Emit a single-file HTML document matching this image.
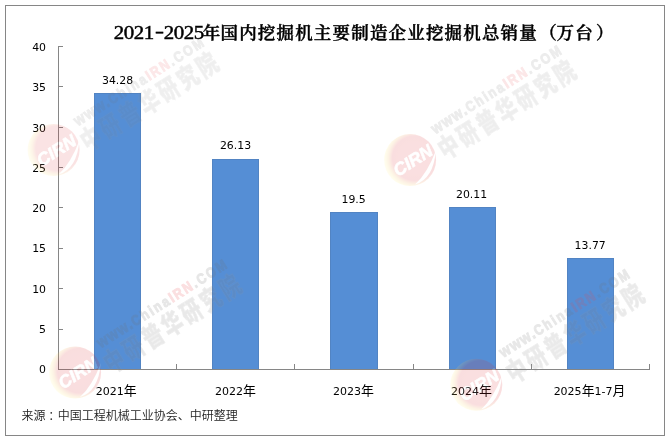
<!DOCTYPE html>
<html lang="zh-CN">
<head>
<meta charset="utf-8">
<title>2021-2025年国内挖掘机主要制造企业挖掘机总销量（万台）</title>
<style>
html,body{margin:0;padding:0;background:#fff;}
body{width:669px;height:440px;overflow:hidden;position:relative;}
svg{display:block;position:absolute;left:0;top:0;}
.num{font-family:"DejaVu Sans","Liberation Sans","Noto Sans CJK SC",sans-serif;font-size:10.9px;fill:#000;}
.cat{font-family:"DejaVu Sans","Liberation Sans","Noto Sans CJK SC",sans-serif;font-size:11px;fill:#000;}
.cjk{font-family:"Liberation Sans","Noto Sans CJK SC",sans-serif;font-size:12.9px;}
.title{font-family:"Liberation Serif","Noto Serif CJK SC",serif;font-size:18.67px;fill:#000;}
.tl{font-weight:normal;font-size:19px;stroke:#000;stroke-width:0.45px;}
.td{stroke:#000;stroke-width:0.5px;}
.tc{font-weight:600;font-size:17.5px;stroke:#000;stroke-width:0.4px;}
.src{font-family:"Liberation Sans","Noto Sans CJK SC",sans-serif;font-size:12px;font-weight:350;fill:#1c1c1c;}
</style>
</head>
<body>
<svg width="669" height="440" viewBox="0 0 669 440">
  <defs>
    <radialGradient id="ball" gradientUnits="userSpaceOnUse" cx="1.2" cy="-1.8" r="31">
      <stop offset="0" stop-color="#e02a30"/>
      <stop offset="0.72" stop-color="#dc2026"/>
      <stop offset="0.84" stop-color="#f2a848"/>
      <stop offset="0.93" stop-color="#ffe870"/>
      <stop offset="1" stop-color="#fff4a0"/>
    </radialGradient>
  </defs>
  <rect x="0" y="0" width="669" height="440" fill="#ffffff"/>
  <rect x="5.5" y="5.5" width="659" height="430" fill="#ffffff" stroke="#868686" stroke-width="1"/>
  <g fill="#558ED5" shape-rendering="crispEdges">
    <rect x="94" y="93" width="47" height="276"/>
    <rect x="212" y="159" width="47" height="210"/>
    <rect x="330" y="212" width="48" height="157"/>
    <rect x="449" y="207" width="47" height="162"/>
    <rect x="567" y="258" width="47" height="111"/>
  </g>
  <g fill="none" stroke="#4a6284" stroke-opacity="0.22" stroke-width="1" shape-rendering="crispEdges">
    <path d="M94.5 369 V93.5 H140.5 V369"/>
    <path d="M212.5 369 V159.5 H258.5 V369"/>
    <path d="M330.5 369 V212.5 H377.5 V369"/>
    <path d="M449.5 369 V207.5 H495.5 V369"/>
    <path d="M567.5 369 V258.5 H613.5 V369"/>
  </g>
  <g stroke="#868686" stroke-width="1" fill="none" shape-rendering="crispEdges">
    <line x1="58.5" y1="46" x2="58.5" y2="370"/>
    <line x1="58" y1="369.5" x2="650" y2="369.5"/>
    <line x1="58" y1="46.5" x2="63" y2="46.5"/>
    <line x1="58" y1="86.5" x2="63" y2="86.5"/>
    <line x1="58" y1="127.5" x2="63" y2="127.5"/>
    <line x1="58" y1="167.5" x2="63" y2="167.5"/>
    <line x1="58" y1="207.5" x2="63" y2="207.5"/>
    <line x1="58" y1="248.5" x2="63" y2="248.5"/>
    <line x1="58" y1="288.5" x2="63" y2="288.5"/>
    <line x1="58" y1="329.5" x2="63" y2="329.5"/>
    <line x1="176.5" y1="364" x2="176.5" y2="370"/>
    <line x1="294.5" y1="364" x2="294.5" y2="370"/>
    <line x1="413.5" y1="364" x2="413.5" y2="370"/>
    <line x1="531.5" y1="364" x2="531.5" y2="370"/>
    <line x1="649.5" y1="364" x2="649.5" y2="370"/>
  </g>
  <g class="num" text-anchor="end">
    <text x="46" y="51">40</text>
    <text x="46" y="91">35</text>
    <text x="46" y="132">30</text>
    <text x="46" y="172">25</text>
    <text x="46" y="212">20</text>
    <text x="46" y="252">15</text>
    <text x="46" y="293">10</text>
    <text x="46" y="333">5</text>
    <text x="46" y="373">0</text>
  </g>
  <g class="num" text-anchor="middle">
    <text x="117.6" y="84">34.28</text>
    <text x="235.5" y="149">26.13</text>
    <text x="353.6" y="203">19.5</text>
    <text x="471.6" y="198">20.11</text>
    <text x="590.2" y="249">13.77</text>
  </g>
  <g class="cat" text-anchor="middle">
    <text x="116.3" y="395">2021<tspan class="cjk">年</tspan></text>
    <text x="235.5" y="395">2022<tspan class="cjk">年</tspan></text>
    <text x="353.5" y="395">2023<tspan class="cjk">年</tspan></text>
    <text x="471.5" y="395">2024<tspan class="cjk">年</tspan></text>
    <text x="589.5" y="395">2025<tspan class="cjk">年</tspan>1-7<tspan class="cjk">月</tspan></text>
  </g>
  <g class="title">
    <text class="tl" transform="scale(1.1 1)" y="38.6"><tspan text-anchor="middle" x="108.09 117.18 126.27 135.36">2021</tspan><tspan class="td" x="140.91" y="37.1" textLength="8.18" lengthAdjust="spacingAndGlyphs">-</tspan><tspan text-anchor="middle" x="153.55 162.64 171.73 180.82" y="38.6">2025</tspan></text>
    <text class="tc" y="38.6" text-anchor="middle" x="211.6 229.27 247.94 266.61 285.28 303.95 322.62 341.29 359.96 378.63 397.3 415.97 434.64 453.31 471.98 490.65 509.32 527.99 548.06 565.33 584.0 604.67">年国内挖掘机主要制造企业挖掘机总销量（万台）</text>
  </g>
  <text class="src" x="21.6" y="420.3">来源<tspan dx="2.6">：</tspan><tspan dx="-2.6">中国工程机械工业协会、中研整理</tspan></text>
  <g transform="translate(57 150)">
    <g opacity="0.12">
      <circle cx="-3.4" cy="0" r="26" fill="url(#ball)"/>
      <path d="M1.5 24.6 Q 13.8 13.4 22.4 -9.5 Q 20 19 1.5 24.6 Z" fill="#ffffff"/>
      <text transform="rotate(-32.4)" x="-0.8" y="6" text-anchor="middle" font-family="'Liberation Sans',sans-serif" font-weight="bold" font-style="italic" font-size="17.5" fill="#ffffff" stroke="#ffffff" stroke-width="0.6">CIRN</text>
    </g>
    <g transform="translate(-1 2) rotate(-32.4)" opacity="0.12">
      <text transform="translate(32 -10) scale(0.85 1)" font-family="'Liberation Sans',sans-serif" font-weight="bold" font-size="14.5" letter-spacing="2.45" fill="#707070" stroke="#707070" stroke-width="1"><tspan font-size="16.0" letter-spacing="1.6">www.</tspan>China<tspan fill="#e8464c" stroke="#e8464c">IRN</tspan>.COM</text>
      <text transform="translate(26.9 17.2) scale(0.74 1)" font-family="'Liberation Sans','Noto Sans CJK SC',sans-serif" font-weight="900" font-size="26.5" letter-spacing="4.5" fill="#808080" stroke="#989898" stroke-width="0.8">中研普华研究院</text>
    </g>
  </g>
  <g transform="translate(413.5 160)">
    <g opacity="0.14">
      <circle cx="-3.4" cy="0" r="26" fill="url(#ball)"/>
      <path d="M1.5 24.6 Q 13.8 13.4 22.4 -9.5 Q 20 19 1.5 24.6 Z" fill="#ffffff"/>
      <text transform="rotate(-32.4)" x="-0.8" y="6" text-anchor="middle" font-family="'Liberation Sans',sans-serif" font-weight="bold" font-style="italic" font-size="17.5" fill="#ffffff" stroke="#ffffff" stroke-width="0.6">CIRN</text>
    </g>
    <g transform="translate(0 0) rotate(-32.4)" opacity="0.13">
      <text transform="translate(32 -10) scale(0.85 1)" font-family="'Liberation Sans',sans-serif" font-weight="bold" font-size="14.5" letter-spacing="2.45" fill="#707070" stroke="#707070" stroke-width="1"><tspan font-size="16.0" letter-spacing="1.6">www.</tspan>China<tspan fill="#e8464c" stroke="#e8464c">IRN</tspan>.COM</text>
      <text transform="translate(26.9 17.2) scale(0.74 1)" font-family="'Liberation Sans','Noto Sans CJK SC',sans-serif" font-weight="900" font-size="26.5" letter-spacing="4.5" fill="#808080" stroke="#989898" stroke-width="0.8">中研普华研究院</text>
    </g>
  </g>
  <g transform="translate(78.5 372.5)">
    <g opacity="0.145">
      <circle cx="-3.4" cy="0" r="26" fill="url(#ball)"/>
      <path d="M1.5 24.6 Q 13.8 13.4 22.4 -9.5 Q 20 19 1.5 24.6 Z" fill="#ffffff"/>
      <text transform="rotate(-32.4)" x="-0.8" y="6" text-anchor="middle" font-family="'Liberation Sans',sans-serif" font-weight="bold" font-style="italic" font-size="17.5" fill="#ffffff" stroke="#ffffff" stroke-width="0.6">CIRN</text>
    </g>
    <g transform="translate(0.5 1.5) rotate(-32.4)" opacity="0.17">
      <text transform="translate(32 -10) scale(0.85 1)" font-family="'Liberation Sans',sans-serif" font-weight="bold" font-size="14.5" letter-spacing="2.45" fill="#707070" stroke="#707070" stroke-width="1"><tspan font-size="16.0" letter-spacing="1.6">www.</tspan>China<tspan fill="#e8464c" stroke="#e8464c">IRN</tspan>.COM</text>
      <text transform="translate(26.9 17.2) scale(0.74 1)" font-family="'Liberation Sans','Noto Sans CJK SC',sans-serif" font-weight="900" font-size="26.5" letter-spacing="4.5" fill="#808080" stroke="#989898" stroke-width="0.8">中研普华研究院</text>
    </g>
  </g>
  <g transform="translate(479.7 384.8)">
    <g opacity="0.14">
      <circle cx="-3.4" cy="0" r="26" fill="url(#ball)"/>
      <path d="M1.5 24.6 Q 13.8 13.4 22.4 -9.5 Q 20 19 1.5 24.6 Z" fill="#ffffff"/>
      <text transform="rotate(-32.4)" x="-0.8" y="6" text-anchor="middle" font-family="'Liberation Sans',sans-serif" font-weight="bold" font-style="italic" font-size="17.5" fill="#ffffff" stroke="#ffffff" stroke-width="0.6">CIRN</text>
    </g>
    <g transform="translate(2 -1.2) rotate(-32.4)" opacity="0.16">
      <text transform="translate(32 -10) scale(0.85 1)" font-family="'Liberation Sans',sans-serif" font-weight="bold" font-size="14.5" letter-spacing="2.45" fill="#707070" stroke="#707070" stroke-width="1"><tspan font-size="16.0" letter-spacing="1.6">www.</tspan>China<tspan fill="#e8464c" stroke="#e8464c">IRN</tspan>.COM</text>
      <text transform="translate(26.9 17.2) scale(0.74 1)" font-family="'Liberation Sans','Noto Sans CJK SC',sans-serif" font-weight="900" font-size="26.5" letter-spacing="4.5" fill="#808080" stroke="#989898" stroke-width="0.8">中研普华研究院</text>
    </g>
  </g>
</svg>
</body>
</html>
